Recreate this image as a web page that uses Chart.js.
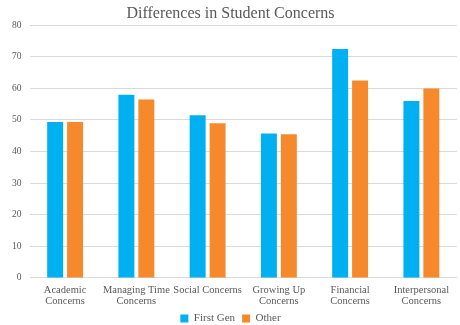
<!DOCTYPE html>
<html>
<head>
<meta charset="utf-8">
<script src="https://cdn.jsdelivr.net/npm/chart.js@4"></script>
<style>
  html, body { margin: 0; padding: 0; background: #fff; }
  #wrap { width: 460px; height: 325px; }
</style>
</head>
<body>
<div id="wrap"><canvas id="chart" width="460" height="325"></canvas></div>
<script>
// ── DATA ──────────────────────────────────────────────────────────────
const categories = [
    ['Academic', 'Concerns'],
    ['Managing Time', 'Concerns'],
    'Social Concerns',
    ['Growing Up', 'Concerns'],
    ['Financial', 'Concerns'],
    ['Interpersonal', 'Concerns'],
];
const firstGen = [49.4, 58, 51.5, 45.7, 72.5, 56];
const other    = [49.4, 56.5, 49, 45.5, 62.5, 60];
const yTicks   = [0, 10, 20, 30, 40, 50, 60, 70, 80];

const FONT = "'Liberation Serif', 'DejaVu Serif', serif";
const GREY = '#595959';

new Chart(document.getElementById('chart'), {
    type: 'bar',
    data: {
        labels: categories,
        datasets: [
            { label: 'First Gen', data: firstGen, backgroundColor: '#00b0f0' },
            { label: 'Other',     data: other,    backgroundColor: '#f5892c' },
        ],
    },
    options: {
        responsive: false,
        animation: false,
        layout: { padding: { left: 4, right: 3, top: 2, bottom: -9 } },
        datasets: { bar: { categoryPercentage: 0.56, barPercentage: 0.8 } },
        plugins: {
            title: {
                display: true,
                text: 'Differences in Student Concerns',
                color: GREY,
                font: { family: FONT, size: 16, weight: 'normal' },
                padding: { top: 2, bottom: 2 },
            },
            legend: {
                position: 'bottom',
                labels: {
                    color: GREY,
                    font: { family: FONT, size: 11 },
                    boxWidth: 8,
                    boxHeight: 8,
                    padding: 7,
                },
            },
            tooltip: { enabled: false },
        },
        scales: {
            x: {
                // let the category labels sit in the legend's empty top padding
                afterFit: scale => { scale.height -= 8; },
                grid: { display: false, drawTicks: false },
                border: { display: false },
                ticks: {
                    color: GREY,
                    font: { family: FONT, size: 10.5, lineHeight: 1.05 },
                    maxRotation: 0,
                    autoSkip: false,
                    padding: 7,
                },
            },
            y: {
                min: 0,
                max: 80,
                afterBuildTicks: axis => { axis.ticks = yTicks.map(v => ({ value: v })); },
                grid: { color: '#d9d9d9', drawTicks: false },
                border: { display: false },
                ticks: {
                    color: GREY,
                    font: { family: FONT, size: 9.5 },
                    padding: 8,
                },
            },
        },
    },
});
</script>
</body>
</html>
